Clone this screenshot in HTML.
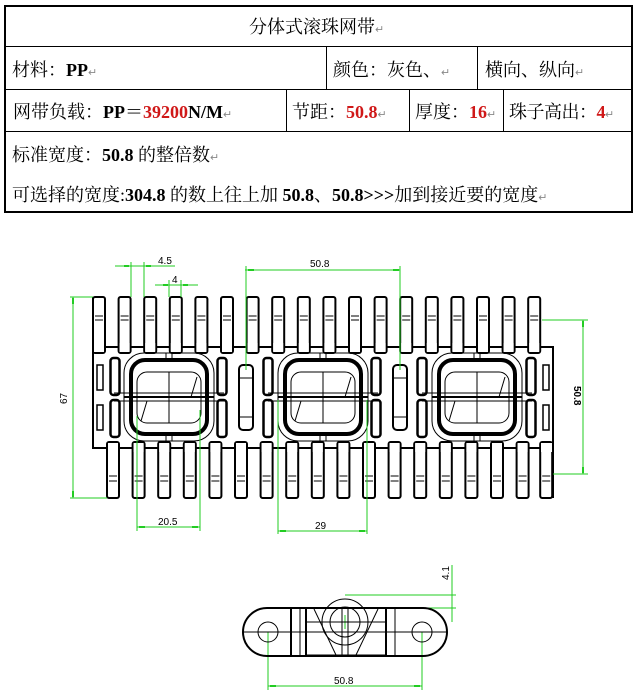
<!DOCTYPE html>
<html><head><meta charset="utf-8"><style>
body{margin:0;background:#fff;width:637px;height:696px;overflow:hidden;position:relative;font-family:"Liberation Serif","Noto Serif CJK SC","Noto Sans CJK SC",serif;}
.t{position:absolute;left:4px;top:5px;width:629px;height:208px;border:2px solid #000;box-sizing:border-box;}
.h{position:absolute;background:#000;height:1px;left:0;right:0}
.v{position:absolute;background:#000;width:1px}
.x{position:absolute;font-size:18px;white-space:nowrap;color:#000}
.r{color:#d01818;font-weight:bold}
.b{font-weight:bold}
.m{font-size:11px;color:#888}
</style></head><body>
<div class="t">
 <div class="h" style="top:39px"></div>
 <div class="h" style="top:82px"></div>
 <div class="h" style="top:124px"></div>
 <div class="v" style="left:320px;top:39px;height:43px"></div>
 <div class="v" style="left:471px;top:39px;height:43px"></div>
 <div class="v" style="left:280px;top:82px;height:42px"></div>
 <div class="v" style="left:403px;top:82px;height:42px"></div>
 <div class="v" style="left:497px;top:82px;height:42px"></div>
</div>
<div class="x" style="left:249px;top:13px">分体式滚珠网带<span class="m">↵</span></div>
<div class="x" style="left:12px;top:56px">材料：<span class="b">PP</span><span class="m">↵</span></div>
<div class="x" style="left:333px;top:56px">颜色：灰色、<span class="m">↵</span></div>
<div class="x" style="left:485px;top:56px">横向、纵向<span class="m">↵</span></div>
<div class="x" style="left:13px;top:98px">网带负载：<span class="b">PP＝</span><span class="r">39200</span><span class="b">N/M</span><span class="m">↵</span></div>
<div class="x" style="left:292px;top:98px">节距：<span class="r">50.8</span><span class="m">↵</span></div>
<div class="x" style="left:415px;top:98px">厚度：<span class="r">16</span><span class="m">↵</span></div>
<div class="x" style="left:509px;top:98px;letter-spacing:-0.5px">珠子高出：<span class="r">4</span><span class="m">↵</span></div>
<div class="x" style="left:12px;top:141px">标准宽度：<span class="b">50.8</span> 的整倍数<span class="m">↵</span></div>
<div class="x" style="left:12px;top:181px">可选择的宽度:<span class="b">304.8</span> 的数上往上加 <span class="b">50.8</span>、<span class="b">50.8&gt;&gt;&gt;</span>加到接近要的宽度<span class="m">↵</span></div>

<svg width="637" height="696" style="position:absolute;left:0;top:0" xmlns="http://www.w3.org/2000/svg">
<defs>
 <g id="tt"><rect x="0" y="297" width="12" height="56" rx="2" fill="#fff" stroke="#000" stroke-width="2"/><line x1="2" y1="316" x2="10" y2="316" stroke="#000"/><line x1="2" y1="320" x2="10" y2="320" stroke="#000"/></g>
 <rect id="tc" x="1" y="343" width="10" height="9" fill="#fff"/>
 <g id="bt"><rect x="0" y="442" width="12" height="56" rx="2" fill="#fff" stroke="#000" stroke-width="2"/><line x1="2" y1="476" x2="10" y2="476" stroke="#000"/><line x1="2" y1="481" x2="10" y2="481" stroke="#000"/></g>
 <rect id="bc" x="1" y="443" width="10" height="9" fill="#fff"/>
 <g id="sq" fill="none" stroke="#000">
  <rect x="-45" y="-44" width="90" height="88" rx="20"/>
  <rect x="-38" y="-37" width="76" height="74" rx="14" stroke-width="4"/>
  <rect x="-32" y="-25" width="64" height="51" rx="10"/>
  <line x1="0" y1="-25" x2="0" y2="26"/><line x1="-55" y1="-4" x2="55" y2="-4"/><line x1="-55" y1="4" x2="55" y2="4"/>
  <line x1="-45" y1="0" x2="45" y2="0" stroke-width="2"/>
  <rect x="-3" y="-44" width="6" height="7"/><rect x="-3" y="37" width="6" height="7"/>
  <line x1="28" y1="-20" x2="22" y2="0"/><line x1="-22" y1="4" x2="-28" y2="24"/>
 </g>
 <g id="sl" fill="#fff" stroke="#000" stroke-width="2.5"><rect x="-4.5" y="358" width="9" height="37" rx="3"/><rect x="-4.5" y="400" width="9" height="37" rx="3"/></g>
 <g id="pin" fill="#fff" stroke="#000" stroke-width="2"><rect x="-7" y="365" width="14" height="65" rx="4"/><line x1="-7" y1="378" x2="7" y2="378" stroke-width="1"/><line x1="-7" y1="417" x2="7" y2="417" stroke-width="1"/></g>
</defs>
<g>
 <rect x="93" y="347" width="460" height="101" fill="#fff" stroke="#000" stroke-width="2"/>
 <use href="#tt" x="93"/><use href="#tt" x="118.6"/><use href="#tt" x="144.2"/><use href="#tt" x="169.8"/><use href="#tt" x="195.4"/><use href="#tt" x="221"/><use href="#tt" x="246.6"/><use href="#tt" x="272.2"/><use href="#tt" x="297.8"/><use href="#tt" x="323.4"/><use href="#tt" x="349"/><use href="#tt" x="374.6"/><use href="#tt" x="400.2"/><use href="#tt" x="425.8"/><use href="#tt" x="451.4"/><use href="#tt" x="477"/><use href="#tt" x="502.6"/><use href="#tt" x="528.2"/>
 <use href="#bt" x="107"/><use href="#bt" x="132.6"/><use href="#bt" x="158.2"/><use href="#bt" x="183.8"/><use href="#bt" x="209.4"/><use href="#bt" x="235"/><use href="#bt" x="260.6"/><use href="#bt" x="286.2"/><use href="#bt" x="311.8"/><use href="#bt" x="337.4"/><use href="#bt" x="363"/><use href="#bt" x="388.6"/><use href="#bt" x="414.2"/><use href="#bt" x="439.8"/><use href="#bt" x="465.4"/><use href="#bt" x="491"/><use href="#bt" x="516.6"/><use href="#bt" x="540.2"/>
 <use href="#tc" x="93"/><use href="#tc" x="118.6"/><use href="#tc" x="144.2"/><use href="#tc" x="169.8"/><use href="#tc" x="195.4"/><use href="#tc" x="221"/><use href="#tc" x="246.6"/><use href="#tc" x="272.2"/><use href="#tc" x="297.8"/><use href="#tc" x="323.4"/><use href="#tc" x="349"/><use href="#tc" x="374.6"/><use href="#tc" x="400.2"/><use href="#tc" x="425.8"/><use href="#tc" x="451.4"/><use href="#tc" x="477"/><use href="#tc" x="502.6"/><use href="#tc" x="528.2"/>
 <use href="#bc" x="107"/><use href="#bc" x="132.6"/><use href="#bc" x="158.2"/><use href="#bc" x="183.8"/><use href="#bc" x="209.4"/><use href="#bc" x="235"/><use href="#bc" x="260.6"/><use href="#bc" x="286.2"/><use href="#bc" x="311.8"/><use href="#bc" x="337.4"/><use href="#bc" x="363"/><use href="#bc" x="388.6"/><use href="#bc" x="414.2"/><use href="#bc" x="439.8"/><use href="#bc" x="465.4"/><use href="#bc" x="491"/><use href="#bc" x="516.6"/><use href="#bc" x="540.2"/>
 <rect x="94" y="343" width="10" height="9" fill="#fff"/>
 <rect x="541" y="443" width="11" height="9" fill="#fff"/>
 <line x1="93" y1="297" x2="93" y2="448" stroke="#000" stroke-width="2"/>
 <line x1="553" y1="347" x2="553" y2="498" stroke="#000" stroke-width="2"/>
 <rect x="97" y="365" width="6" height="25" fill="#fff" stroke="#000" stroke-width="1.5"/>
 <rect x="97" y="405" width="6" height="25" fill="#fff" stroke="#000" stroke-width="1.5"/>
 <rect x="543" y="365" width="6" height="25" fill="#fff" stroke="#000" stroke-width="1.5"/>
 <rect x="543" y="405" width="6" height="25" fill="#fff" stroke="#000" stroke-width="1.5"/>
 <use href="#sl" x="115"/><use href="#sl" x="222"/><use href="#sl" x="268"/><use href="#sl" x="376"/><use href="#sl" x="422"/><use href="#sl" x="531"/>
 <use href="#pin" x="246"/><use href="#pin" x="400"/>
 <use href="#sq" x="169" y="397"/><use href="#sq" x="323" y="397"/><use href="#sq" x="477" y="397"/>
</g>
<g stroke="#22cc22" stroke-width="1" fill="none">
 <line x1="115" y1="266" x2="175" y2="266"/><line x1="131" y1="262" x2="131" y2="297"/><line x1="144" y1="262" x2="144" y2="297"/>
 <line x1="155" y1="285" x2="198" y2="285"/><line x1="169" y1="280" x2="169" y2="297"/><line x1="181" y1="280" x2="181" y2="297"/>
 <line x1="245" y1="270" x2="400" y2="270"/><line x1="246" y1="266" x2="246" y2="370"/><line x1="400" y1="266" x2="400" y2="370"/>
 <line x1="73" y1="297" x2="73" y2="498"/><line x1="70" y1="297" x2="93" y2="297"/><line x1="70" y1="498" x2="107" y2="498"/>
 <line x1="583" y1="320" x2="583" y2="474"/><line x1="542" y1="320" x2="588" y2="320"/><line x1="553" y1="474" x2="588" y2="474"/>
 <line x1="137" y1="416" x2="137" y2="531"/><line x1="200" y1="410" x2="200" y2="531"/><line x1="137" y1="527" x2="200" y2="527"/>
 <line x1="278" y1="400" x2="278" y2="534"/><line x1="367" y1="400" x2="367" y2="534"/><line x1="278" y1="531" x2="367" y2="531"/>
 <line x1="268" y1="632" x2="268" y2="690"/><line x1="422" y1="632" x2="422" y2="690"/><line x1="268" y1="686" x2="422" y2="686"/>
 <line x1="452" y1="565" x2="452" y2="622"/><line x1="345" y1="595" x2="456" y2="595"/><line x1="405" y1="608" x2="456" y2="608"/>
 <line x1="338" y1="622" x2="352" y2="622"/><line x1="345" y1="615" x2="345" y2="629"/>
</g>
<g fill="#22cc22">
 <rect x="124" y="265" width="5" height="2"/><rect x="146" y="265" width="5" height="2"/><rect x="163" y="284" width="5" height="2"/><rect x="183" y="284" width="5" height="2"/>
 <rect x="248" y="269" width="6" height="2"/><rect x="393" y="269" width="6" height="2"/>
 <rect x="72" y="298" width="2" height="6"/><rect x="72" y="491" width="2" height="6"/><rect x="582" y="321" width="2" height="6"/><rect x="582" y="467" width="2" height="6"/>
 <rect x="139" y="526" width="6" height="2"/><rect x="192" y="526" width="6" height="2"/><rect x="280" y="530" width="6" height="2"/><rect x="359" y="530" width="6" height="2"/>
 <rect x="270" y="685" width="6" height="2"/><rect x="414" y="685" width="6" height="2"/>
</g>
<g font-family="Liberation Sans, sans-serif" font-size="10" fill="#000">
 <text x="158" y="264">4.5</text><text x="172" y="283">4</text><text x="310" y="267">50.8</text>
 <text x="67" y="404" transform="rotate(-90 67 404)">67</text>
 <text x="574" y="386" transform="rotate(90 574 386)" font-weight="bold">50.8</text>
 <text x="158" y="525">20.5</text><text x="315" y="529">29</text>
 <text x="334" y="684">50.8</text>
 <text x="449" y="580" transform="rotate(-90 449 580)">4.1</text>
</g>
<g fill="none" stroke="#000">
 <rect x="243" y="608" width="204" height="48" rx="24" stroke-width="2"/>
 <circle cx="268" cy="632" r="10"/><circle cx="422" cy="632" r="10"/>
 <line x1="243" y1="632" x2="447" y2="632"/>
 <circle cx="345" cy="622" r="23"/><circle cx="345" cy="622" r="15"/>
 <line x1="291" y1="609" x2="291" y2="655" stroke-width="2"/><line x1="300" y1="609" x2="300" y2="655"/>
 <line x1="306" y1="609" x2="306" y2="655" stroke-width="2"/><line x1="386" y1="609" x2="386" y2="655" stroke-width="2"/><line x1="395" y1="609" x2="395" y2="655"/>
 <rect x="306" y="622" width="80" height="33"/>
 <line x1="314" y1="609" x2="336" y2="655"/><line x1="378" y1="609" x2="356" y2="655"/>
 <line x1="342" y1="609" x2="342" y2="655"/><line x1="348" y1="609" x2="348" y2="655"/>
</g>
</svg>
</body></html>
